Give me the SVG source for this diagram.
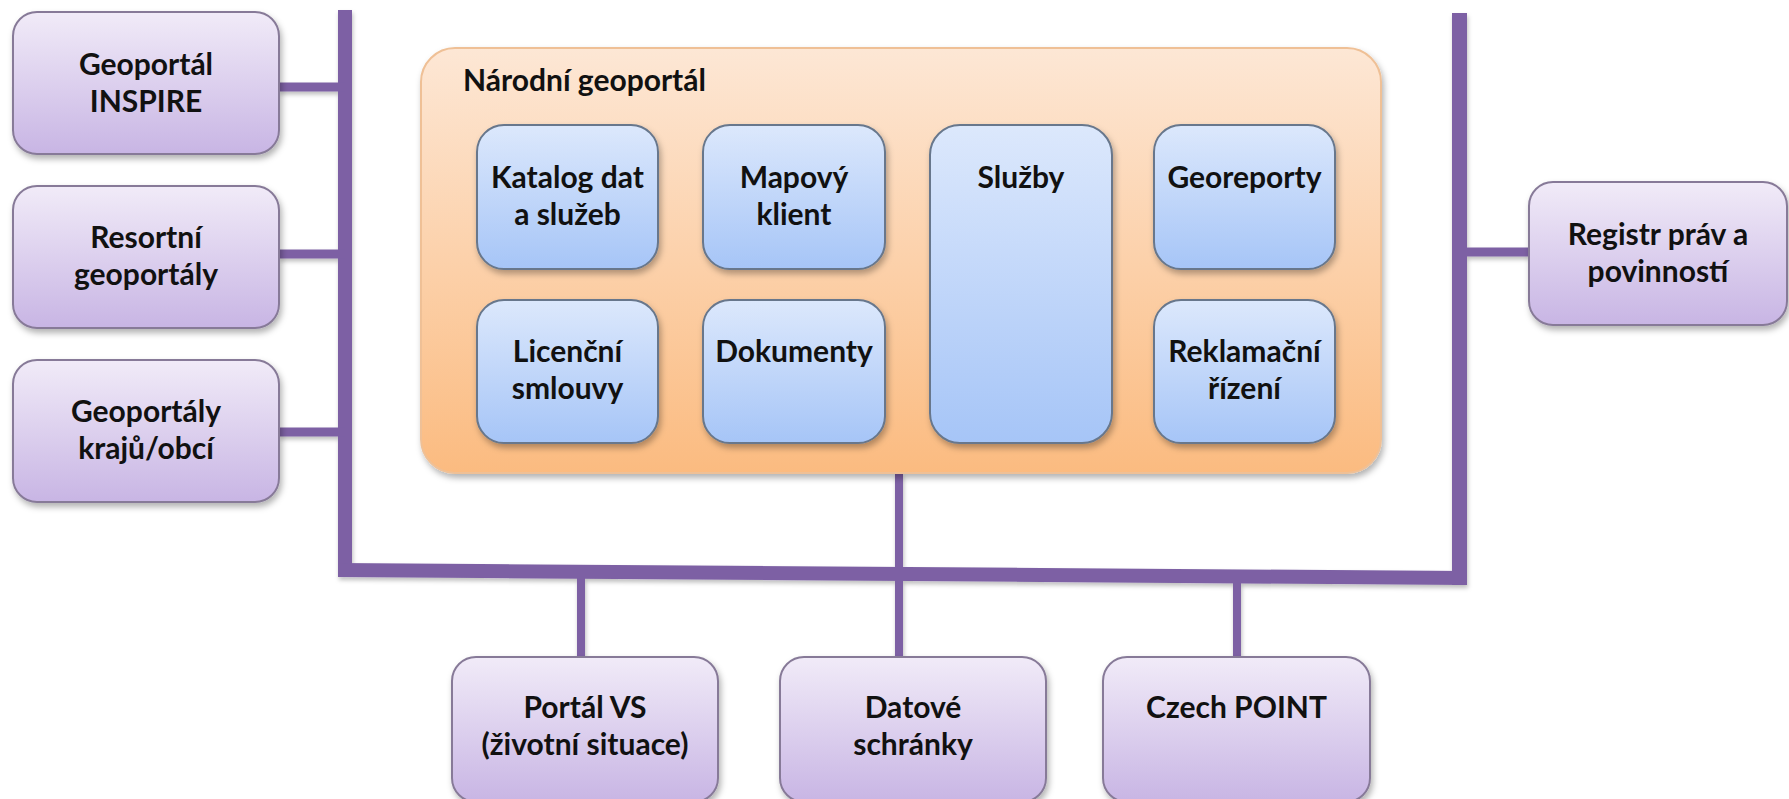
<svg xmlns="http://www.w3.org/2000/svg" width="1789" height="799" viewBox="0 0 1789 799">
<defs>
<linearGradient id="gPurple" x1="0" y1="0" x2="0" y2="1">
<stop offset="0" stop-color="#f1ebf8"/>
<stop offset="1" stop-color="#c8b5e4"/>
</linearGradient>
<linearGradient id="gOrange" x1="0" y1="0" x2="0" y2="1">
<stop offset="0" stop-color="#fde7d5"/>
<stop offset="1" stop-color="#fbbb80"/>
</linearGradient>
<linearGradient id="gBlue" x1="0" y1="0" x2="0" y2="1">
<stop offset="0" stop-color="#dce8fc"/>
<stop offset="1" stop-color="#a6c5f7"/>
</linearGradient>
<filter id="sh" x="-10%" y="-10%" width="125%" height="130%">
<feDropShadow dx="2" dy="4" stdDeviation="3" flood-color="#000" flood-opacity="0.3"/>
</filter>
<filter id="shl" x="-10%" y="-10%" width="125%" height="130%">
<feDropShadow dx="1" dy="3" stdDeviation="2" flood-color="#000" flood-opacity="0.25"/>
</filter>
</defs>
<style>
.pb{fill:url(#gPurple);stroke:#877a98;stroke-width:2;filter:url(#sh)}
.ob{fill:url(#gOrange);stroke:#efc096;stroke-width:2;filter:url(#sh)}
.bb{fill:url(#gBlue);stroke:#67778c;stroke-width:2;filter:url(#sh)}
.bus{stroke:#7d61a4;fill:none;stroke-linecap:butt}
text{font-family:Lato,"Liberation Sans",sans-serif;font-weight:bold;font-size:30px;fill:#111;text-anchor:middle}
.title{text-anchor:start}
</style>
<rect width="1789" height="799" fill="#fff"/>
<g id="connectors" filter="url(#shl)">
<line class="bus" x1="345" y1="10" x2="345" y2="577" stroke-width="14"/>
<line class="bus" x1="1459.5" y1="13" x2="1459.5" y2="585" stroke-width="15"/>
<polygon points="338,563 1467,571 1467,585 338,577" fill="#7d61a4"/>
<line class="bus" x1="279" y1="87" x2="345" y2="87" stroke-width="9"/>
<line class="bus" x1="279" y1="254" x2="345" y2="254" stroke-width="9"/>
<line class="bus" x1="279" y1="432" x2="345" y2="432" stroke-width="9"/>
<line class="bus" x1="1467" y1="252" x2="1529" y2="252" stroke-width="9"/>
<line class="bus" x1="581" y1="574" x2="581" y2="657" stroke-width="8"/>
<line class="bus" x1="899" y1="473" x2="899" y2="657" stroke-width="8"/>
<line class="bus" x1="1237" y1="578" x2="1237" y2="657" stroke-width="8"/>
</g>
<g id="geoportal-inspire">
<rect class="pb" x="13" y="12" width="266" height="142" rx="24"/>
<text x="146" y="75">Geoportál</text>
<text x="146" y="112">INSPIRE</text>
</g>
<g id="resortni-geoportaly">
<rect class="pb" x="13" y="186" width="266" height="142" rx="24"/>
<text x="146" y="248">Resortní</text>
<text x="146" y="285">geoportály</text>
</g>
<g id="geoportaly-kraju">
<rect class="pb" x="13" y="360" width="266" height="142" rx="24"/>
<text x="146" y="422">Geoportály</text>
<text x="146" y="459">krajů/obcí</text>
</g>
<g id="narodni-geoportal">
<rect class="ob" x="421" y="48" width="960" height="425" rx="34"/>
<text class="title" x="463" y="91">Národní geoportál</text>
</g>
<g id="katalog">
<rect class="bb" x="477" y="125" width="181" height="144" rx="27"/>
<text x="567.5" y="188">Katalog dat</text>
<text x="567.5" y="225">a služeb</text>
</g>
<g id="mapovy-klient">
<rect class="bb" x="703" y="125" width="182" height="144" rx="27"/>
<text x="794" y="188">Mapový</text>
<text x="794" y="225">klient</text>
</g>
<g id="sluzby">
<rect class="bb" x="930" y="125" width="182" height="318" rx="30"/>
<text x="1021" y="188">Služby</text>
</g>
<g id="georeporty">
<rect class="bb" x="1154" y="125" width="181" height="144" rx="27"/>
<text x="1244.5" y="188">Georeporty</text>
</g>
<g id="licencni-smlouvy">
<rect class="bb" x="477" y="300" width="181" height="143" rx="27"/>
<text x="567.5" y="362">Licenční</text>
<text x="567.5" y="399">smlouvy</text>
</g>
<g id="dokumenty">
<rect class="bb" x="703" y="300" width="182" height="143" rx="27"/>
<text x="794" y="362">Dokumenty</text>
</g>
<g id="reklamacni-rizeni">
<rect class="bb" x="1154" y="300" width="181" height="143" rx="27"/>
<text x="1244.5" y="362">Reklamační</text>
<text x="1244.5" y="399">řízení</text>
</g>
<g id="registr">
<rect class="pb" x="1529" y="182" width="258" height="143" rx="24"/>
<text x="1658" y="245">Registr práv a</text>
<text x="1658" y="282">povinností</text>
</g>
<g id="portal-vs">
<rect class="pb" x="452" y="657" width="266" height="145" rx="24"/>
<text x="585" y="718">Portál VS</text>
<text x="585" y="755">(životní situace)</text>
</g>
<g id="datove-schranky">
<rect class="pb" x="780" y="657" width="266" height="145" rx="24"/>
<text x="913" y="718">Datové</text>
<text x="913" y="755">schránky</text>
</g>
<g id="czech-point">
<rect class="pb" x="1103" y="657" width="267" height="145" rx="24"/>
<text x="1236.5" y="718">Czech POINT</text>
</g>
</svg>
